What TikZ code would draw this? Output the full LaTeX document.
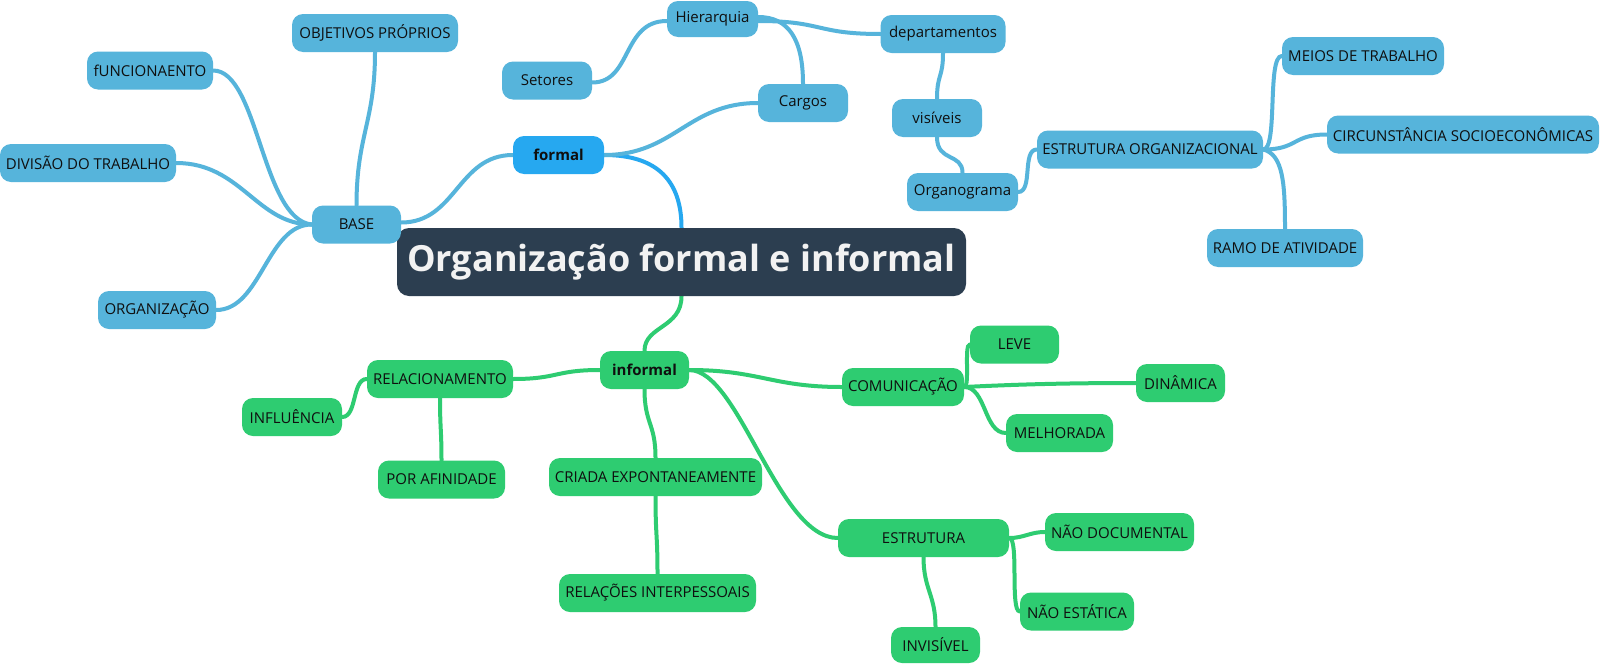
\documentclass[tikz,border=0pt]{standalone}
\usepackage{fontspec}
\setmainfont{Open Sans}
\pgfdeclarelayer{bg}
\pgfdeclarelayer{edges}
\pgfsetlayers{bg,edges,main}
\definecolor{cblue}{RGB}{86,180,219}
\definecolor{cformal}{RGB}{38,168,240}
\definecolor{cgreen}{RGB}{46,204,113}
\definecolor{cmain}{RGB}{44,62,80}
\definecolor{ctext}{RGB}{15,15,15}
\definecolor{ctitle}{RGB}{242,242,242}
\tikzset{
  box/.style={rounded corners=11pt, minimum height=38pt, inner sep=0pt,
    font=\fontsize{15}{17}\selectfont, text=ctext},
  bbox/.style={box, fill=cblue},
  fbox/.style={box, fill=cformal, font=\fontsize{15}{17}\selectfont\bfseries},
  gbox/.style={box, fill=cgreen},
  ibox/.style={box, fill=cgreen, font=\fontsize{15}{17}\selectfont\bfseries},
  titlebox/.style={rounded corners=12pt, minimum height=68pt, minimum width=569pt,
    inner sep=0pt, fill=cmain, text=ctitle, font=\fontsize{36}{42}\selectfont\bfseries},
  blink/.style={draw=cblue, line width=4pt, line cap=round},
  flink/.style={draw=cformal, line width=4pt, line cap=round},
  glink/.style={draw=cgreen, line width=4pt, line cap=round}
}
\begin{document}
\begin{tikzpicture}[x=1pt,y=-1pt]
\begin{pgfonlayer}{bg}
\fill[white] (0,0) rectangle (1600,664);
\end{pgfonlayer}
\useasboundingbox (0,0) rectangle (1600,664);

% central
\node[titlebox] (main) at (681.5,262) {Organização formal e informal};

% formal branch
\node[fbox, minimum width=91pt] (formal) at (558.5,155) {formal};
\node[bbox, minimum width=89pt] (base) at (356.5,224.5) {BASE};
\node[bbox, minimum width=166pt] (obj) at (375,33) {OBJETIVOS PRÓPRIOS};
\node[bbox, minimum width=126pt] (func) at (150,70.5) {fUNCIONAENTO};
\node[bbox, minimum width=176pt] (div) at (88,163) {DIVISÃO DO TRABALHO};
\node[bbox, minimum width=118pt] (org) at (157,310) {ORGANIZAÇÃO};
\node[bbox, minimum width=90pt] (setores) at (547,80.5) {Setores};
\node[bbox, minimum width=91pt, minimum height=36pt] (hier) at (712.5,19) {Hierarquia};
\node[bbox, minimum width=90pt] (cargos) at (803,103) {Cargos};
\node[bbox, minimum width=125pt] (dept) at (943,34) {departamentos};
\node[bbox, minimum width=90pt] (vis) at (937,118) {visíveis};
\node[bbox, minimum width=111pt] (organo) at (962.5,192) {Organograma};
\node[bbox, minimum width=226pt] (eo) at (1150,149.5) {ESTRUTURA ORGANIZACIONAL};
\node[bbox, minimum width=162pt] (meios) at (1363,56) {MEIOS DE TRABALHO};
\node[bbox, minimum width=272pt] (circ) at (1463,134.5) {CIRCUNSTÂNCIA SOCIOECONÔMICAS};
\node[bbox, minimum width=156pt] (ramo) at (1285,248) {RAMO DE ATIVIDADE};

% informal branch
\node[ibox, minimum width=89pt] (informal) at (644.5,370) {informal};
\node[gbox, minimum width=146pt] (rel) at (440,379) {RELACIONAMENTO};
\node[gbox, minimum width=100pt] (inf) at (292,417) {INFLUÊNCIA};
\node[gbox, minimum width=127pt] (por) at (441.5,479.5) {POR AFINIDADE};
\node[gbox, minimum width=213pt] (criada) at (655.5,477) {CRIADA EXPONTANEAMENTE};
\node[gbox, minimum width=197pt] (relac) at (657.5,593) {RELAÇÕES INTERPESSOAIS};
\node[gbox, minimum width=122pt] (com) at (903,387) {COMUNICAÇÃO};
\node[gbox, minimum width=89pt] (leve) at (1014.5,344.5) {LEVE};
\node[gbox, minimum width=89pt] (din) at (1180.5,383) {DINÂMICA};
\node[gbox, minimum width=107pt] (mel) at (1059.5,433) {MELHORADA};
\node[gbox, minimum width=171pt] (est) at (923.5,538) {ESTRUTURA};
\node[gbox, minimum width=149pt] (ndoc) at (1119.5,532) {NÃO DOCUMENTAL};
\node[gbox, minimum width=114pt] (nest) at (1077,611.5) {NÃO ESTÁTICA};
\node[gbox, minimum width=89pt, minimum height=36pt] (inv) at (935.5,645) {INVISÍVEL};

\begin{pgfonlayer}{edges}
% main links
\draw[flink] (formal.east) .. controls +(55,0) and +(0,-45) .. (main.north);
\draw[glink] (main.south) .. controls +(0,32) and +(0,-25) .. (informal.north);
% formal
\draw[blink] (formal.west) .. controls +(-55,0) and +(55,0) .. ([yshift=2pt]base.east);
\draw[blink] (formal.east) .. controls +(70,0) and +(-70,0) .. (cargos.west);
\draw[blink] (base.north) .. controls +(0,-70) and +(0,70) .. (obj.south);
\draw[blink] (base.west) .. controls +(-50,-5) and +(45,0) .. (func.east);
\draw[blink] (base.west) .. controls +(-55,0) and +(65,0) .. (div.east);
\draw[blink] (base.west) .. controls +(-45,0) and +(45,0) .. (org.east);
\draw[blink] (cargos.north) .. controls +(0,-45) and +(30,0) .. ([yshift=2pt]hier.east);
\draw[blink] ([yshift=-2pt]hier.west) .. controls +(-45,0) and +(40,0) .. ([yshift=-2pt]setores.east);
\draw[blink] ([yshift=-2pt]hier.east) .. controls +(65,0) and +(-65,0) .. (dept.west);
\draw[blink] (dept.south) .. controls +(0,25) and +(0,-25) .. (vis.north);
\draw[blink] (vis.south) .. controls +(0,25) and +(0,-20) .. (organo.north);
\draw[blink] (organo.east) .. controls +(15,0) and +(-15,0) .. (eo.west);
\draw[blink] (eo.east) .. controls +(15,0) and +(-15,0) .. (meios.west);
\draw[blink] (eo.east) .. controls +(35,0) and +(-35,0) .. (circ.west);
\draw[blink] (eo.east) .. controls +(20,5) and +(0,-45) .. (ramo.north);
% informal
\draw[glink] (informal.west) .. controls +(-45,0) and +(45,0) .. (rel.east);
\draw[glink] (rel.west) .. controls +(-15,0) and +(15,0) .. (inf.east);
\draw[glink] (rel.south) .. controls +(0,30) and +(0,-30) .. (por.north);
\draw[glink] (informal.south) .. controls +(0,35) and +(0,-35) .. (criada.north);
\draw[glink] (criada.south) .. controls +(0,40) and +(0,-40) .. (relac.north);
\draw[glink] (informal.east) .. controls +(70,0) and +(-70,0) .. (com.west);
\draw[glink] (informal.east) .. controls +(50,0) and +(-60,0) .. (est.west);
\draw[glink] (com.east) .. controls +(6,0) and +(-6,0) .. (leve.west);
\draw[glink] (com.east) .. controls +(60,-3) and +(-60,0) .. (din.west);
\draw[glink] (com.east) .. controls +(22,0) and +(-22,0) .. (mel.west);
\draw[glink] (est.east) .. controls +(15,0) and +(-15,0) .. (ndoc.west);
\draw[glink] (est.east) .. controls +(10,0) and +(-10,0) .. (nest.west);
\draw[glink] (est.south) .. controls +(0,32) and +(0,-32) .. (inv.north);
\end{pgfonlayer}
\end{tikzpicture}
\end{document}
